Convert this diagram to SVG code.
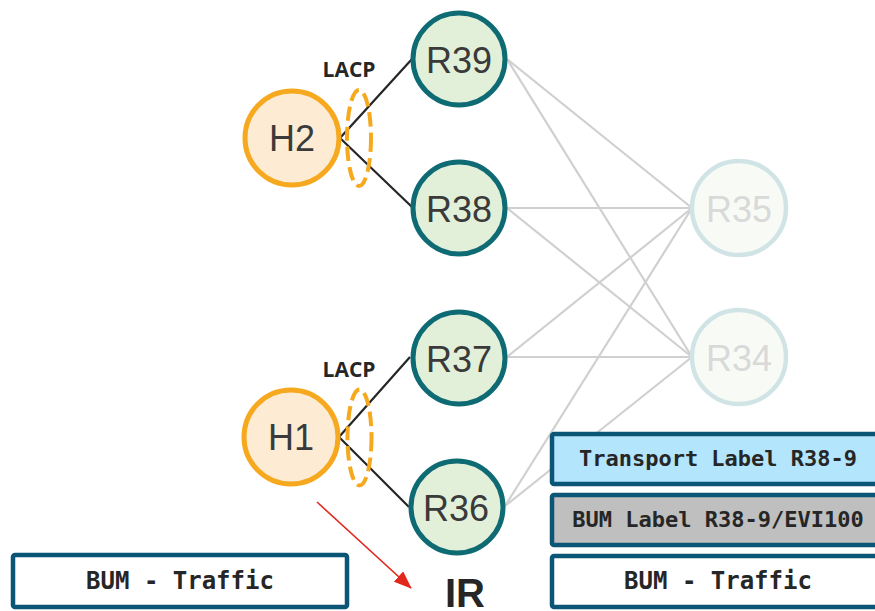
<svg xmlns="http://www.w3.org/2000/svg" width="875" height="611" viewBox="0 0 875 611">
  <style>
    .lbl { font-family: "Liberation Sans", Arial, sans-serif; font-size: 36px; text-anchor: middle; fill: #3a3a3a; }
    .rnode { fill: #e2f0d9; stroke: #0f6b73; stroke-width: 5; }
    .hnode { fill: #fdebd3; stroke: #f6a91e; stroke-width: 5; }
    .fnode { fill: #f8fbf5; stroke: #d0e3e5; stroke-width: 4.5; }
    .flbl { fill: #d9d9d9; }
    .mesh { stroke: #d0d0d0; stroke-width: 2.2; fill: none; }
    .link { stroke: #262626; stroke-width: 2.2; fill: none; }
    .lag { fill: none; stroke: #f6a91e; stroke-width: 4; stroke-dasharray: 14 6; }
    .lacp { font-family: "Open Sans", "Liberation Sans", sans-serif; font-weight: bold; font-size: 21px; text-anchor: middle; fill: #262626; }
    .box { stroke: #0b5677; stroke-width: 4.5; }
    .mono { font-family: "DejaVu Sans Mono", "Liberation Mono", monospace; font-weight: bold; text-anchor: middle; fill: #262626; }
  </style>
  <defs>
    <marker id="redArrow" markerWidth="18" markerHeight="14" refX="17" refY="7" orient="auto" markerUnits="userSpaceOnUse" viewBox="0 0 18 14">
      <path d="M0,0 L18,7 L0,14 z" fill="#e2271d"/>
    </marker>
  </defs>

  <!-- connectors -->
  <g id="connectors">
    <g id="mesh-links">
      <line class="mesh" x1="507" y1="59" x2="692" y2="208"/>
      <line class="mesh" x1="507" y1="59" x2="692" y2="357"/>
      <line class="mesh" x1="507" y1="208" x2="692" y2="208"/>
      <line class="mesh" x1="507" y1="208" x2="692" y2="357"/>
      <line class="mesh" x1="507" y1="357" x2="692" y2="208"/>
      <line class="mesh" x1="507" y1="357" x2="692" y2="357"/>
      <line class="mesh" x1="505" y1="506" x2="692" y2="208"/>
      <line class="mesh" x1="505" y1="506" x2="692" y2="357"/>
    </g>
    <g id="access-links">
      <polyline class="link" points="412,59 340,138 412,207"/>
      <polyline class="link" points="410,357 339,437 409,507"/>
    </g>
    <line id="ir-arrow" x1="317" y1="502" x2="411" y2="588" stroke="#e2271d" stroke-width="1.6" marker-end="url(#redArrow)"/>
  </g>

  <!-- LACP bundles -->
  <g id="lacp-h2">
    <ellipse class="lag" cx="359" cy="138" rx="12" ry="48"/>
    <text class="lacp" x="349" y="77">LACP</text>
  </g>
  <g id="lacp-h1">
    <ellipse class="lag" cx="359.5" cy="437.5" rx="12" ry="48"/>
    <text class="lacp" x="349" y="377">LACP</text>
  </g>

  <!-- hosts -->
  <g id="H2">
    <circle class="hnode" cx="292" cy="138" r="47"/>
    <text class="lbl" x="292" y="151">H2</text>
  </g>
  <g id="H1">
    <circle class="hnode" cx="291" cy="437" r="47"/>
    <text class="lbl" x="291" y="450">H1</text>
  </g>

  <!-- leaf routers -->
  <g id="R39">
    <circle class="rnode" cx="459" cy="59" r="46"/>
    <text class="lbl" x="459" y="73">R39</text>
  </g>
  <g id="R38">
    <circle class="rnode" cx="459" cy="208" r="46"/>
    <text class="lbl" x="459" y="222">R38</text>
  </g>
  <g id="R37">
    <circle class="rnode" cx="459" cy="358" r="46"/>
    <text class="lbl" x="459" y="372">R37</text>
  </g>
  <g id="R36">
    <circle class="rnode" cx="457" cy="507" r="46"/>
    <text class="lbl" x="456" y="521">R36</text>
  </g>

  <!-- spine routers -->
  <g id="R35">
    <circle class="fnode" cx="739" cy="208" r="47"/>
    <text class="lbl flbl" x="739" y="222">R35</text>
  </g>
  <g id="R34">
    <circle class="fnode" cx="739" cy="357" r="47"/>
    <text class="lbl flbl" x="739" y="371">R34</text>
  </g>

  <!-- ingress replication label -->
  <g id="ir">
    <text x="465" y="607" font-family="Liberation Sans, Arial, sans-serif" font-weight="bold" font-size="40" text-anchor="middle" fill="#262626">IR</text>
  </g>

  <!-- original frame -->
  <g id="frame-in">
    <rect class="box" x="13" y="555" width="334" height="52" rx="2" fill="#ffffff"/>
    <text class="mono" x="180" y="589" font-size="24">BUM - Traffic</text>
  </g>

  <!-- encapsulated frame -->
  <g id="frame-out">
    <rect class="box" x="552" y="434" width="334" height="50" rx="2" fill="#b3e5fc"/>
    <text class="mono" x="718" y="466" font-size="22">Transport Label R38-9</text>
    <rect class="box" x="552" y="495" width="334" height="50" rx="2" fill="#bfbfbf"/>
    <text class="mono" x="718" y="527" font-size="22">BUM Label R38-9/EVI100</text>
    <rect class="box" x="552" y="556" width="334" height="51" rx="2" fill="#ffffff"/>
    <text class="mono" x="718" y="589" font-size="24">BUM - Traffic</text>
  </g>
</svg>
